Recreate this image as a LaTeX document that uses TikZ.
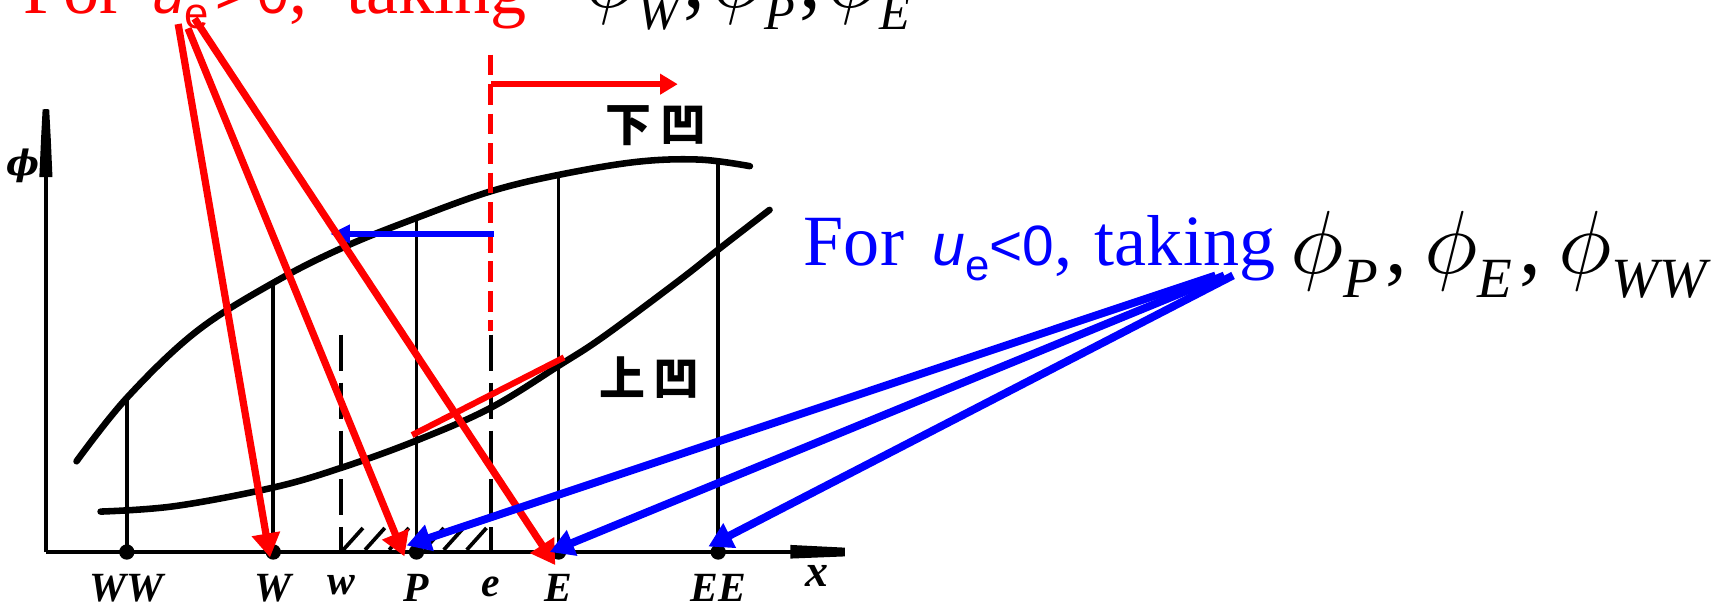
\documentclass[tikz,border=0pt]{standalone}
\usepackage{graphicx}
\usepackage{fontspec}
\setmainfont{Liberation Serif}
\setsansfont{Liberation Sans}
\newfontfamily\cjk{Noto Sans CJK SC}
\newfontfamily\dvs{DejaVu Serif}
\usetikzlibrary{arrows.meta}
\newcommand\phis[1]{\scalebox{4}{$\phi$}\raisebox{-10pt}{\fontsize{23}{23}\selectfont\itshape #1}}
\newcommand\cm{\hspace{2pt}{\fontsize{40}{40}\selectfont,}\hspace{3pt}}
\newcommand\phisb[1]{\scalebox{4.1}{$\phi$}\raisebox{-11pt}{\fontsize{26}{26}\selectfont\itshape #1}}
\newcommand\cmb{\hspace{3pt}{\fontsize{40}{40}\selectfont,}\hspace{8pt}}
\newcommand\bluetext{For\hspace{13pt}{\fontsize{27}{27}\selectfont\sffamily\itshape u}\raisebox{-7pt}{\fontsize{20}{20}\selectfont\sffamily e}{\fontsize{26}{26}\selectfont\sffamily <0}, \hspace{2pt}taking}
\newcommand\redtext{For\hspace{13pt}{\fontsize{27}{27}\selectfont\sffamily\itshape u}\raisebox{-7pt}{\fontsize{20}{20}\selectfont\sffamily e}\hspace{3pt}{\fontsize{26}{26}\selectfont\sffamily >\hspace{4pt}0},\hspace{18pt}taking}
\begin{document}
\begin{tikzpicture}[x=0.5pt,y=-0.5pt,
  axisline/.style={line width=2pt},
  vline/.style={line width=1.7pt},
  curveline/.style={line width=3pt,line cap=round},
  blkdash/.style={line width=1.8pt,dash pattern=on 16.5pt off 5.5pt},
  reddash/.style={draw=red,line width=2.2pt,dash pattern=on 9.5pt off 4pt},
  redarrow/.style={draw=red,line width=3.3pt,-{Triangle[length=11pt,width=12.5pt]}},
  bluearrow/.style={draw=blue,line width=3.6pt,-{Triangle[length=11pt,width=12pt]}},
  flowred/.style={draw=red,line width=3pt,-{Triangle[length=8pt,width=9pt]}},
  flowblue/.style={draw=blue,line width=2.6pt,-{Triangle[length=9pt,width=8pt]}},
  dot/.style={circle,fill=black,inner sep=0pt,minimum size=7pt},
  lab/.style={font=\fontsize{19}{19}\selectfont\bfseries\itshape,anchor=base,inner sep=0pt},
  cjklab/.style={font=\fontsize{21}{21}\selectfont\cjk\bfseries,inner sep=0pt},
  hatch/.style={line width=1.7pt},
  txt/.style={anchor=base west,inner sep=0pt}
]
\clip (0,0) rectangle (1568,558);
\fill[white] (0,0) rectangle (1568,558);

% axes
\coordinate (O) at (42,505);
\coordinate (Ytop) at (42,100);
\coordinate (Xend) at (773,505);
\draw[axisline] (O) -- (Ytop);
\draw[axisline] (O) -- (Xend);
\fill (36,162) -- (48,162) -- (46.5,128) -- (45,100) -- (39,100) -- (37.5,128) -- cycle;
\node[font=\fontsize{16}{16}\selectfont\dvs\bfseries\itshape,inner sep=0pt] (philab) at (21,152) {ϕ};
\node[font=\fontsize{21}{21}\selectfont\bfseries\itshape,inner sep=0pt] (xlab) at (747,527) {x};

% curves
\draw[curveline] plot[smooth,tension=0.6] coordinates {(70,422) (116,364) (180,303) (253,257) (317,225) (382,199) (449,175) (511,160) (583,148) (640,146) (686,152)};
\draw[curveline] plot[smooth,tension=0.6] coordinates {(92,468) (160,463) (250,446) (312,428) (381,403) (449,373) (512,334) (552,308) (622,256) (660,226) (704,192)};

% grid points
\node[dot] (WW) at (116,505) {};
\node[dot] (W) at (250,505) {};
\node[dot] (P) at (381,505) {};
\node[dot] (E) at (511,505) {};
\node[dot] (EE) at (657,505) {};
\coordinate (WWt) at (116,364);
\coordinate (Wt) at (250,258);
\coordinate (Pt) at (381,199);
\coordinate (Et) at (511,160);
\coordinate (EEt) at (657,147);
\draw[vline] (WW.center) -- (WWt);
\draw[vline] (W.center) -- (Wt);
\draw[vline] (P.center) -- (Pt);
\draw[vline] (E.center) -- (Et);
\draw[vline] (EE.center) -- (EEt);
\fill (723,498.5) -- (773,501) -- (773,509) -- (723,511) -- cycle;

% faces
\coordinate (wb) at (312,505);
\coordinate (wt) at (312,306);
\coordinate (eb) at (449,505);
\coordinate (et) at (449,306);
\coordinate (er) at (449,303);
\coordinate (etop) at (449,50);
\draw[blkdash] (wt) -- (wb);
\draw[blkdash] (et) -- (eb);
\draw[reddash] (etop) -- (er);

% hatching
\foreach \hx in {314,334,356,388,406,427}
  \draw[hatch] (\hx,503) -- ++(18,-20);

% labels
\node[lab] (lWW) at (116,550) {WW};
\node[lab] (lW) at (250,550) {W};
\node[lab] (lw) at (312,544) {w};
\node[lab] (lP) at (381,550) {P};
\node[lab] (le) at (449,546) {e};
\node[lab] (lE) at (511,550) {E};
\node[lab] (lEE) at (657,550) {EE};
\node[cjklab] (xia) at (600,115) {下\hspace{4pt}凹};
\node[cjklab] (shang) at (594,345) {上\hspace{4pt}凹};

% red interpolation segment
\coordinate (s1) at (377,398);
\coordinate (s2) at (516,327);
\draw[draw=red,line width=2.8pt] (s1) -- (s2);

% flow direction arrows
\coordinate (fr1) at (449,77);
\coordinate (fr2) at (620,77);
\draw[flowred] (fr1) -- (fr2);
\coordinate (fb1) at (452,214);
\coordinate (fb2) at (302,214);
\draw[flowblue] (fb1) -- (fb2);

% texts
\node[txt,text=red] (redtxt) at (21,12) {\fontsize{33}{33}\selectfont\redtext};
\node[txt] (redphi) at (535,7) {\phis{W}\cm\phis{P}\cm\phis{E}};
\node[txt,text=blue] (bluetxt) at (735,243) {\fontsize{33}{33}\selectfont\bluetext};
\node[txt] (bluephi) at (1180,250) {\phisb{P}\cmb\phisb{E}\cmb\phisb{WW}};

% red arrows (u_e>0)
\coordinate (ra1) at (163,22);
\coordinate (ra2) at (172,26);
\coordinate (ra3) at (178,17);
\coordinate (rW) at (247,510);
\coordinate (rP) at (370,509);
\coordinate (rE) at (508,517);
\draw[redarrow] (ra1) -- (rW);
\draw[redarrow] (ra2) -- (rP);
\draw[redarrow] (ra3) -- (rE);

% blue arrows (u_e<0)
\coordinate (ba1) at (1112,252);
\coordinate (ba2) at (1120,252);
\coordinate (ba3) at (1128,252);
\coordinate (bP) at (372,499);
\coordinate (bE) at (503,505);
\coordinate (bEE) at (648,500);
\draw[bluearrow] (ba1) -- (bP);
\draw[bluearrow] (ba2) -- (bE);
\draw[bluearrow] (ba3) -- (bEE);
\end{tikzpicture}
\end{document}
